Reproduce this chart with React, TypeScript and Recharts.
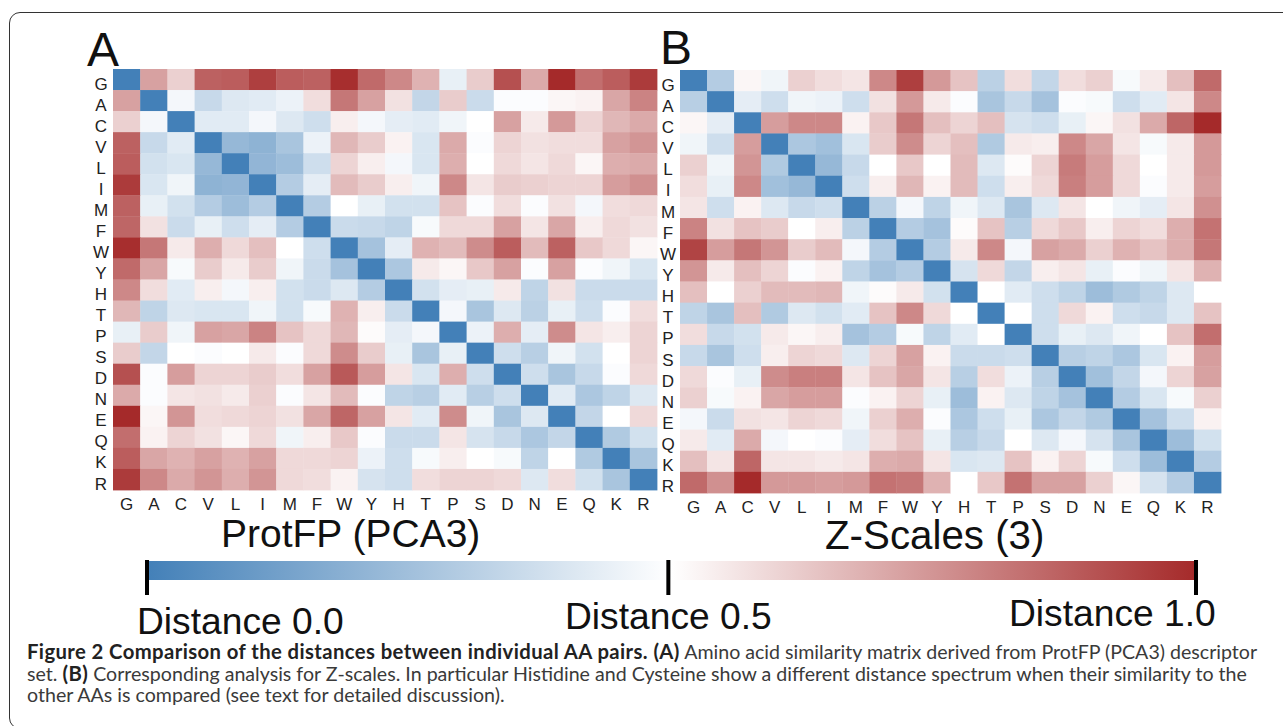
import { ReferenceArea, Scatter, ScatterChart, XAxis, YAxis } from "recharts";

const AMINO_ACIDS = ["G", "A", "C", "V", "L", "I", "M", "F", "W", "Y", "H", "T", "P", "S", "D", "N", "E", "Q", "K", "R"];

// distance matrix, rows and columns in AMINO_ACIDS order
const PROTFP_DISTANCES = [
  [0, .72, .61, .87, .88, .95, .88, .87, .99, .85, .78, .68, .44, .62, .91, .70, 1, .84, .88, .96],
  [.72, 0, .47, .35, .41, .42, .45, .58, .82, .72, .57, .34, .62, .36, .49, .49, .52, .53, .71, .79],
  [.61, .47, 0, .42, .42, .47, .41, .37, .54, .47, .43, .42, .46, .50, .72, .55, .74, .60, .67, .70],
  [.87, .35, .42, 0, .22, .20, .27, .45, .67, .62, .53, .40, .70, .49, .60, .57, .58, .58, .72, .75],
  [.88, .38, .40, .22, 0, .21, .24, .37, .60, .54, .47, .40, .69, .50, .59, .56, .59, .52, .69, .70],
  [.96, .40, .46, .20, .21, 0, .30, .43, .66, .62, .54, .46, .78, .56, .62, .61, .60, .60, .73, .76],
  [.87, .44, .38, .30, .24, .30, 0, .30, .50, .44, .38, .38, .64, .49, .58, .49, .57, .47, .58, .59],
  [.86, .57, .36, .44, .37, .43, .30, 0, .36, .35, .33, .48, .59, .59, .72, .56, .71, .54, .59, .57],
  [.99, .82, .55, .69, .59, .65, .50, .37, 0, .26, .43, .68, .66, .77, .88, .66, .87, .63, .59, .52],
  [.85, .71, .48, .62, .55, .62, .46, .36, .26, 0, .28, .55, .52, .63, .72, .49, .72, .49, .46, .40],
  [.78, .58, .42, .54, .47, .54, .38, .36, .41, .30, 0, .38, .43, .44, .55, .33, .57, .36, .36, .36],
  [.67, .33, .41, .40, .40, .46, .38, .48, .68, .54, .36, 0, .47, .27, .41, .32, .44, .37, .49, .58],
  [.44, .62, .46, .72, .71, .79, .64, .59, .67, .51, .43, .47, 0, .45, .69, .43, .77, .56, .54, .60],
  [.62, .34, .50, .49, .50, .55, .49, .59, .77, .62, .44, .27, .44, 0, .37, .31, .46, .38, .50, .60],
  [.91, .49, .73, .60, .60, .62, .58, .72, .89, .73, .56, .40, .69, .37, 0, .37, .27, .35, .49, .59],
  [.70, .49, .56, .57, .55, .61, .49, .56, .66, .49, .33, .31, .42, .31, .37, 0, .42, .28, .33, .41],
  [1, .52, .75, .58, .59, .60, .57, .71, .86, .72, .56, .42, .77, .46, .27, .41, 0, .34, .50, .59],
  [.84, .53, .60, .57, .52, .59, .46, .54, .63, .49, .36, .36, .56, .39, .35, .28, .34, 0, .29, .38],
  [.88, .71, .68, .72, .68, .72, .59, .59, .60, .45, .37, .48, .54, .50, .48, .33, .50, .29, 0, .27],
  [.96, .78, .70, .75, .69, .75, .59, .58, .53, .39, .37, .58, .60, .60, .59, .41, .58, .38, .27, 0],
];

// same layout, panel B
const ZSCALE_DISTANCES = [
  [0, .30, .52, .46, .61, .58, .56, .78, .95, .74, .64, .32, .58, .34, .58, .61, .48, .55, .65, .85],
  [.31, 0, .43, .37, .46, .45, .37, .57, .74, .55, .49, .27, .35, .26, .49, .48, .37, .42, .56, .78],
  [.52, .43, 0, .73, .78, .78, .53, .63, .82, .65, .60, .65, .39, .37, .44, .52, .57, .70, .86, 1],
  [.46, .37, .73, 0, .28, .25, .40, .62, .77, .60, .65, .29, .55, .54, .78, .71, .56, .48, .55, .74],
  [.61, .46, .75, .29, 0, .22, .35, .50, .63, .50, .66, .41, .51, .60, .81, .73, .59, .50, .55, .74],
  [.58, .44, .78, .25, .22, 0, .37, .54, .67, .53, .66, .37, .54, .59, .80, .73, .59, .49, .55, .73],
  [.56, .37, .53, .41, .35, .37, 0, .32, .47, .33, .46, .41, .27, .41, .56, .50, .46, .43, .56, .76],
  [.79, .57, .64, .62, .50, .54, .32, 0, .30, .26, .51, .64, .31, .59, .63, .54, .60, .58, .69, .83],
  [.94, .73, .82, .75, .62, .66, .47, .30, 0, .30, .55, .78, .47, .72, .70, .61, .68, .64, .69, .82],
  [.75, .55, .65, .60, .49, .53, .33, .26, .30, 0, .39, .59, .34, .54, .56, .44, .49, .46, .56, .68],
  [.65, .50, .61, .66, .66, .67, .46, .51, .55, .38, 0, .50, .42, .37, .33, .24, .29, .33, .41, .50],
  [.33, .27, .65, .29, .41, .38, .42, .64, .78, .59, .50, 0, .50, .37, .59, .53, .37, .35, .41, .64],
  [.58, .35, .38, .55, .52, .54, .26, .30, .48, .33, .42, .50, 0, .37, .44, .41, .46, .50, .64, .84],
  [.35, .27, .37, .54, .60, .59, .41, .60, .72, .53, .36, .36, .37, 0, .31, .33, .28, .40, .53, .73],
  [.59, .49, .44, .77, .80, .80, .56, .64, .71, .56, .31, .58, .45, .31, 0, .25, .34, .47, .60, .72],
  [.61, .48, .53, .71, .73, .73, .49, .53, .60, .44, .24, .53, .41, .33, .26, 0, .30, .40, .48, .61],
  [.47, .36, .57, .56, .60, .59, .46, .61, .69, .49, .28, .37, .44, .28, .34, .29, 0, .26, .37, .53],
  [.55, .42, .70, .47, .50, .49, .43, .58, .64, .44, .31, .35, .50, .41, .47, .39, .27, 0, .24, .38],
  [.65, .56, .86, .56, .56, .55, .56, .69, .70, .56, .40, .41, .64, .53, .60, .48, .37, .24, 0, .30],
  [.85, .76, 1, .74, .74, .73, .74, .83, .82, .68, .50, .63, .83, .72, .72, .61, .52, .39, .30, 0],
];

// the middle mark sits a little left of centre in the figure
const SCALE_TICKS = [0, 0.497, 1];

const LOW = [67, 128, 184];
const MID = [255, 255, 255];
const HIGH = [165, 42, 42];

const SANS = "'Liberation Sans', Arial, sans-serif";

// blue -> white -> red, 0.5 is white
const distanceColor = (d: number) => {
  const from = d < 0.5 ? LOW : MID;
  const to = d < 0.5 ? MID : HIGH;
  const t = d < 0.5 ? d * 2 : (d - 0.5) * 2;
  const ch = from.map((c, i) => Math.round(c + (to[i] - c) * t));
  return `rgb(${ch[0]},${ch[1]},${ch[2]})`;
};

const toPoints = (matrix: number[][]) =>
  matrix.flatMap((row, y) => row.map((value, x) => ({ x, y, value })));

const axisTick = { fill: "#222", fontSize: 17, fontFamily: SANS };

interface HeatmapProps {
  matrix: number[][];
  left: number;
  top: number;
  plotWidth: number;
  plotHeight: number;
}

const Heatmap = ({ matrix, left, top, plotWidth, plotHeight }: HeatmapProps) => {
  const cellW = plotWidth / AMINO_ACIDS.length;
  const cellH = plotHeight / AMINO_ACIDS.length;
  const yAxisWidth = 30;
  const xAxisHeight = 30;

  const HeatCell = (props: any) => (
    <rect
      x={props.cx - cellW / 2}
      y={props.cy - cellH / 2}
      width={cellW + 0.4}
      height={cellH + 0.4}
      fill={distanceColor(props.payload.value)}
    />
  );

  return (
    <div style={{ position: "absolute", left: left - yAxisWidth, top }}>
      <ScatterChart
        width={plotWidth + yAxisWidth + 2}
        height={plotHeight + xAxisHeight}
        margin={{ top: 0, right: 2, bottom: 0, left: 0 }}
      >
        <XAxis
          type="number"
          dataKey="x"
          domain={[-0.5, 19.5]}
          ticks={AMINO_ACIDS.map((_, i) => i)}
          tickFormatter={(i: number) => AMINO_ACIDS[i]}
          interval={0}
          axisLine={false}
          tickLine={false}
          tick={axisTick}
          tickMargin={2}
          height={xAxisHeight}
        />
        <YAxis
          type="number"
          dataKey="y"
          reversed
          domain={[-0.5, 19.5]}
          ticks={AMINO_ACIDS.map((_, i) => i)}
          tickFormatter={(i: number) => AMINO_ACIDS[i]}
          interval={0}
          axisLine={false}
          tickLine={false}
          tick={{ ...axisTick, textAnchor: "middle", dy: 4 }}
          tickMargin={6}
          width={yAxisWidth}
        />
        <Scatter data={toPoints(matrix)} shape={HeatCell} isAnimationActive={false} />
      </ScatterChart>
    </div>
  );
};

const ScaleTick = (props: any) => (
  <rect x={props.cx - 2} y={props.cy - 18} width={4} height={35} fill="#000" />
);

const ColorBar = () => (
  <div style={{ position: "absolute", left: 137, top: 558 }}>
    <ScatterChart width={1069} height={40} margin={{ top: 0, right: 10, bottom: 0, left: 10 }}>
      <defs>
        <linearGradient id="distance-scale">
          <stop offset="0" stopColor={distanceColor(0)} />
          <stop offset="0.5" stopColor={distanceColor(0.5)} />
          <stop offset="1" stopColor={distanceColor(1)} />
        </linearGradient>
      </defs>
      <XAxis type="number" dataKey="x" domain={[0, 1]} ticks={SCALE_TICKS} hide />
      <YAxis type="number" dataKey="y" domain={[0, 40]} reversed hide />
      <ReferenceArea x1={0} x2={1} y1={3} y2={22} fill="url(#distance-scale)" fillOpacity={1} stroke="none" />
      <Scatter data={SCALE_TICKS.map((x) => ({ x, y: 20 }))} shape={ScaleTick} isAnimationActive={false} />
    </ScatterChart>
  </div>
);

const Label = ({ x, y, size, children }: { x: number; y: number; size: number; children: string }) => (
  <div
    style={{
      position: "absolute",
      left: x,
      top: y,
      fontFamily: SANS,
      fontSize: size,
      lineHeight: 0.8,
      color: "#111",
      whiteSpace: "nowrap",
    }}
  >
    {children}
  </div>
);

const captionLine = { position: "absolute", left: 27, fontFamily: "Lato, sans-serif", fontSize: 19.6, lineHeight: "24px", color: "#3a3a3a", whiteSpace: "nowrap" } as const;
const captionBold = { fontSize: 20.3, letterSpacing: 0.4, color: "#222" };

export default function App() {
  return (
    <div style={{ position: "absolute", left: 0, top: 0, width: 1283, height: 726, overflow: "hidden", background: "#fff" }}>
      <div
        style={{
          position: "absolute",
          left: 9,
          top: 12,
          width: 1300,
          height: 715,
          border: "1.5px solid #333",
          borderRadius: 11,
        }}
      />
      <Label x={87} y={31} size={48}>A</Label>
      <Label x={660} y={29} size={48}>B</Label>
      <Heatmap matrix={PROTFP_DISTANCES} left={113} top={69} plotWidth={544} plotHeight={421} />
      <Heatmap matrix={ZSCALE_DISTANCES} left={680} top={70} plotWidth={541} plotHeight={423} />
      <Label x={221} y={518} size={39}>ProtFP (PCA3)</Label>
      <Label x={825} y={520} size={40.3}>Z-Scales (3)</Label>
      <ColorBar />
      <Label x={137} y={607} size={37.2}>Distance 0.0</Label>
      <Label x={565} y={602} size={37.2}>Distance 0.5</Label>
      <Label x={1009} y={599} size={37.2}>Distance 1.0</Label>
      <div style={{ ...captionLine, top: 639 }}>
        <b style={captionBold}>Figure 2 Comparison of the distances between individual AA pairs. (A)</b> Amino acid similarity matrix derived from ProtFP (PCA3) descriptor
      </div>
      <div style={{ ...captionLine, top: 661 }}>
        set. <b style={captionBold}>(B)</b> Corresponding analysis for Z-scales. In particular Histidine and Cysteine show a different distance spectrum when their similarity to the
      </div>
      <div style={{ ...captionLine, top: 683 }}>other AAs is compared (see text for detailed discussion).</div>
    </div>
  );
}
